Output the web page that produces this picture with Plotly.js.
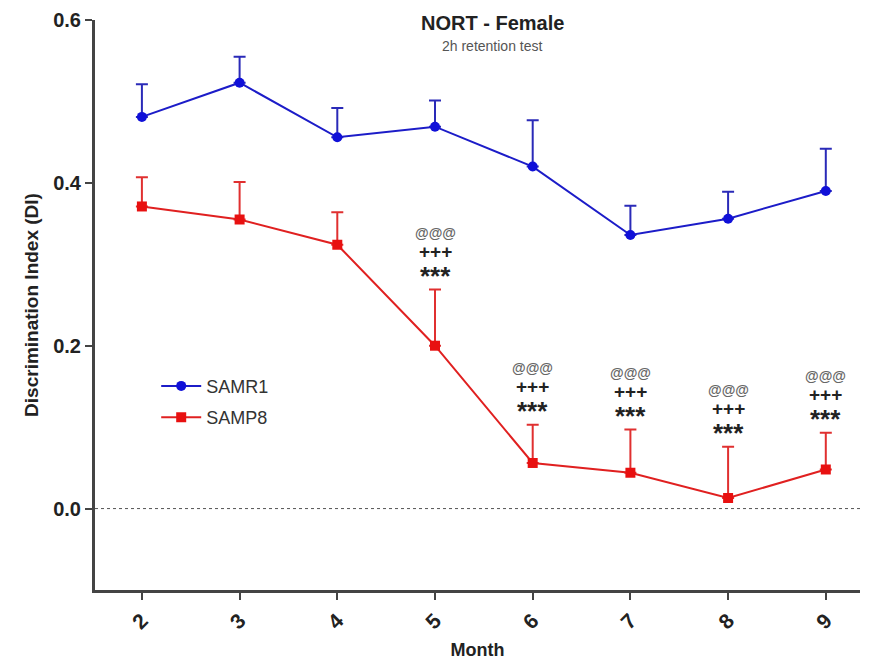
<!DOCTYPE html>
<html>
<head>
<meta charset="utf-8">
<script src="https://cdn.plot.ly/plotly-3.0.1.min.js"></script>
<style>html,body{margin:0;padding:0;background:#fff;}#chart{width:870px;height:662px;}</style>
</head>
<body>
<div id="chart"></div>
<script>
const months = [2, 3, 4, 5, 6, 7, 8, 9];
const samr1Mean = [0.481, 0.523, 0.456, 0.469, 0.420, 0.336, 0.356, 0.390];
const samr1Sem  = [0.040, 0.032, 0.036, 0.032, 0.057, 0.036, 0.033, 0.052];
const samp8Mean = [0.371, 0.355, 0.324, 0.200, 0.056, 0.044, 0.013, 0.048];
const samp8Sem  = [0.036, 0.046, 0.040, 0.069, 0.047, 0.053, 0.063, 0.045];
const sigMonths = [5, 6, 7, 8, 9];
const sigLines = ['***', '+++', '@@@'];

const font = 'Liberation Sans, Arial, sans-serif';
const axisColor = '#444';

const traces = [
  {
    x: months, y: samr1Mean, name: 'SAMR1', type: 'scatter', mode: 'lines+markers', legendgroup: 'g1',
    line: {color: '#1c1cc8', width: 2},
    marker: {symbol: 'circle', size: 10, color: '#1010d8'},
    error_y: {type: 'data', array: samr1Sem, arrayminus: samr1Sem.map(() => 0), color: '#2a2ab8', thickness: 2, width: 6}
  },
  {
    x: months, y: samp8Mean, name: 'SAMP8', type: 'scatter', mode: 'lines+markers', legendgroup: 'g2',
    line: {color: '#e02020', width: 2},
    marker: {symbol: 'square', size: 10, color: '#e81010'},
    error_y: {type: 'data', array: samp8Sem, arrayminus: samp8Sem.map(() => 0), color: '#e03030', thickness: 2, width: 6}
  }
];

const lineStyle = [
  {shift: 14, size: 26, color: '#222', bold: true},
  {shift: 38, size: 19, color: '#222', bold: true},
  {shift: 57, size: 14, color: '#666', bold: true}
];
const annotations = [];
sigMonths.forEach(m => {
  const i = months.indexOf(m);
  sigLines.forEach((t, k) => {
    const st = lineStyle[k];
    annotations.push({
      x: m, y: samp8Mean[i] + samp8Sem[i], xref: 'x', yref: 'y',
      text: st.bold ? '<b>' + t + '</b>' : t, showarrow: false, yanchor: 'middle', yshift: st.shift,
      font: {family: font, size: st.size, color: st.color}
    });
  });
});
annotations.push(
  {x: 0.52, y: 1.0, xref: 'paper', yref: 'paper', yanchor: 'bottom', yshift: -16, showarrow: false,
   text: '<b>NORT - Female</b>', font: {family: font, size: 20, color: '#222'}},
  {x: 0.52, y: 1.0, xref: 'paper', yref: 'paper', yanchor: 'bottom', yshift: -36, showarrow: false,
   text: '2h retention test', font: {family: font, size: 14, color: '#555'}}
);

const layout = {
  width: 870, height: 662,
  margin: {l: 95, r: 10, t: 20, b: 72},
  paper_bgcolor: '#fff', plot_bgcolor: '#fff',
  showlegend: true,
  legend: {x: 0.08, y: 0.39, xanchor: 'left', yanchor: 'top', bgcolor: 'rgba(0,0,0,0)',
           font: {family: font, size: 18, color: '#333'}, tracegroupgap: 5, itemwidth: 40},
  xaxis: {
    range: [1.52, 9.35], tickvals: months, ticktext: months.map(String),
    tickangle: -45, ticks: 'outside', ticklen: 7, tickwidth: 2, tickcolor: axisColor,
    showline: true, linecolor: axisColor, linewidth: 3, showgrid: false, zeroline: false,
    tickfont: {family: font, size: 21, color: '#222', weight: 'bold'},
    title: {text: '<b>Month</b>', font: {family: font, size: 18, color: '#222'}, standoff: 12}
  },
  yaxis: {
    range: [-0.1, 0.6], tickvals: [0, 0.2, 0.4, 0.6], ticktext: ['0.0', '0.2', '0.4', '0.6'],
    ticks: 'outside', ticklen: 7, tickwidth: 2, tickcolor: axisColor,
    showline: true, linecolor: axisColor, linewidth: 3, showgrid: false, zeroline: false,
    tickfont: {family: font, size: 20, color: '#222', weight: 'bold'},
    title: {text: '<b>Discrimination Index (DI)</b>', font: {family: font, size: 19, color: '#222'}, standoff: 10}
  },
  shapes: [
    {type: 'line', xref: 'paper', x0: 0, x1: 1, yref: 'y', y0: 0, y1: 0,
     line: {color: '#555', width: 1, dash: 'dot'}, layer: 'below'}
  ],
  annotations: annotations
};

Plotly.newPlot('chart', traces, layout, {displayModeBar: false, staticPlot: true});
</script>
</body>
</html>
